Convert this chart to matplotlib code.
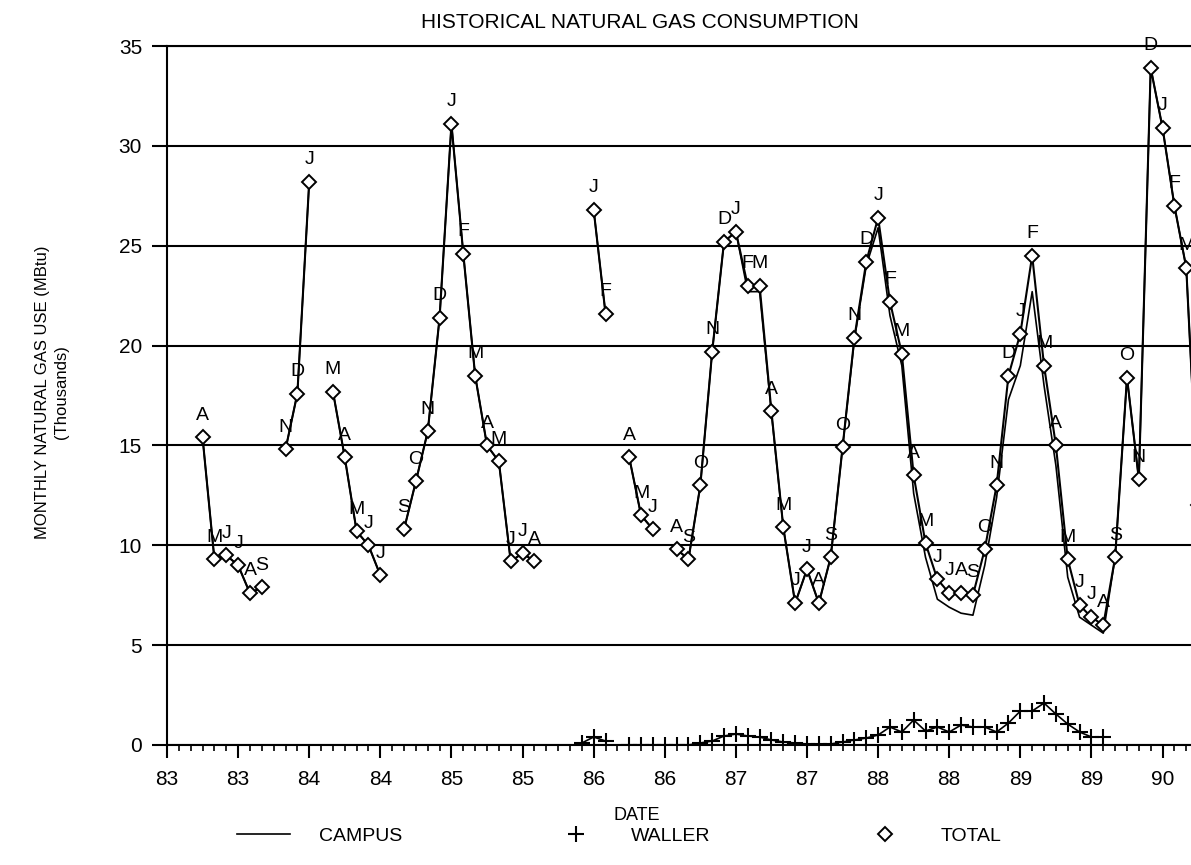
import numpy as np
import matplotlib.pyplot as plt
from matplotlib.lines import Line2D

nan = np.nan
plt.rcParams['font.family'] = ['Liberation Sans', 'DejaVu Sans']

# monthly values, Jan 1983 .. Apr 1990 (thousands of MBtu)
month_initials = list("JFMAMJJASOND")
tick_labels = ["83", "83", "84", "84", "85", "85", "86", "86",
               "87", "87", "88", "88", "89", "89", "90"]

total = [
    nan, nan, nan, 15.4, 9.3, 9.5, 9.0, 7.6, 7.9, nan, 14.8, 17.6,      # 83
    28.2, nan, 17.7, 14.4, 10.7, 10.0, 8.5, nan, 10.8, 13.2, 15.7, 21.4,  # 84
    31.1, 24.6, 18.5, 15.0, 14.2, 9.2, 9.6, 9.2, nan, nan, nan, nan,      # 85
    26.8, 21.6, nan, 14.4, 11.5, 10.8, nan, 9.8, 9.3, 13.0, 19.7, 25.2,   # 86
    25.7, 23.0, 23.0, 16.7, 10.9, 7.1, 8.8, 7.1, 9.4, 14.9, 20.4, 24.2,   # 87
    26.4, 22.2, 19.6, 13.5, 10.1, 8.3, 7.6, 7.6, 7.5, 9.8, 13.0, 18.5,    # 88
    20.6, 24.5, 19.0, 15.0, 9.3, 7.0, 6.4, 6.0, 9.4, 18.4, 13.3, 33.9,    # 89
    30.9, 27.0, 23.9, 12.0,                                              # 90
]

campus = [
    nan, nan, nan, 15.4, 9.3, 9.5, 9.0, 7.6, 7.9, nan, 14.8, 17.6,
    28.2, nan, 17.7, 14.4, 10.7, 10.0, 8.5, nan, 10.8, 13.2, 15.7, 21.4,
    31.1, 24.6, 18.5, 15.0, 14.2, 9.2, 9.6, 9.2, nan, nan, nan, nan,
    26.8, 21.6, nan, 14.4, 11.5, 10.8, nan, 9.8, 9.3, 13.0, 19.7, 25.2,
    25.7, 22.7, 22.7, 16.6, 10.9, 7.1, 8.8, 7.1, 9.4, 14.9, 20.3, 24.0,
    25.9, 21.5, 19.0, 12.6, 9.4, 7.3, 6.9, 6.6, 6.5, 9.0, 12.4, 17.3,
    19.0, 22.7, 18.0, 14.0, 8.4, 6.4, 6.0, 5.6, 9.4, 18.4, 13.3, 33.9,
    30.9, 27.0, 23.9, 12.0,
]

waller = [
    nan, nan, nan, nan, nan, nan, nan, nan, nan, nan, nan, nan,
    nan, nan, nan, nan, nan, nan, nan, nan, nan, nan, nan, nan,
    nan, nan, nan, nan, nan, nan, nan, nan, nan, nan, nan, 0.1,
    0.4, 0.2, nan, 0.0, 0.0, 0.0, 0.0, 0.0, 0.0, 0.1, 0.2, 0.45,
    0.55, 0.45, 0.4, 0.25, 0.15, 0.1, 0.05, 0.05, 0.05, 0.15, 0.25, 0.35,
    0.5, 0.9, 0.65, 1.25, 0.7, 0.9, 0.65, 1.0, 0.9, 0.9, 0.65, 1.1,
    1.7, 1.7, 2.1, 1.55, 1.05, 0.65, 0.4, 0.4, nan, nan, nan, nan,
    nan, nan, nan, nan,
]

x = np.arange(len(total))

fig = plt.figure(figsize=(11.91, 8.65), dpi=100)
ax = fig.add_axes([167 / 1191, 120 / 865, 1024 / 1191, 699 / 865])

ax.plot(x, campus, color='black', lw=1.2)
ax.plot(x, waller, color='black', lw=1.2, marker='+', ms=11, mew=1.5)
ax.plot(x, total, color='black', lw=1.5, marker='D', ms=7.5,
        mfc='white', mec='black', mew=1.4)

for xi, v in zip(x, total):
    if not np.isnan(v):
        ax.annotate(month_initials[xi % 12], (xi, v), xytext=(0, 16),
                    textcoords='offset points', ha='center', va='center',
                    fontsize=14)

ax.set_xlim(0, 86.4)
ax.set_ylim(0, 35)
ax.set_xticks(range(0, 85, 6))
ax.set_xticklabels(tick_labels, fontsize=15)
ax.set_xticks(range(0, 87), minor=True)
ax.set_yticks(range(0, 36, 5))
ax.tick_params(axis='y', labelsize=15, length=11, width=1.5, pad=7)
ax.tick_params(axis='x', which='major', length=9, width=1.5, pad=9)
ax.tick_params(axis='x', which='minor', length=4.5, width=1.2)
ax.grid(axis='y', color='black', lw=1.5)
ax.spines['right'].set_visible(False)
for s in ['left', 'bottom', 'top']:
    ax.spines[s].set_linewidth(1.5)

fig.text(640 / 1191, 1 - 22 / 865, 'HISTORICAL NATURAL GAS CONSUMPTION',
         ha='center', va='center', fontsize=15)
fig.text(637 / 1191, 1 - 815 / 865, 'DATE', ha='center', va='center', fontsize=13)
fig.text(52 / 1191, 1 - 392 / 865, 'MONTHLY NATURAL GAS USE (MBtu)\n(Thousands)',
         rotation=90, ha='center', va='center', fontsize=12,
         multialignment='center', linespacing=1.4)

handles = [Line2D([], [], color='black', lw=1.2),
           Line2D([], [], ls='none', marker='+', color='black', ms=11, mew=1.5),
           Line2D([], [], ls='none', marker='D', mfc='white', mec='black',
                  ms=7.5, mew=1.4)]
fig.legend(handles, ['CAMPUS', 'WALLER', 'TOTAL'], loc='center left',
           bbox_to_anchor=(237 / 1191, 29 / 865), ncol=3, frameon=False,
           fontsize=14, handlelength=2.7, handletextpad=1.5,
           columnspacing=7.6, borderpad=0, borderaxespad=0)

fig.savefig('out.png', dpi=100)
